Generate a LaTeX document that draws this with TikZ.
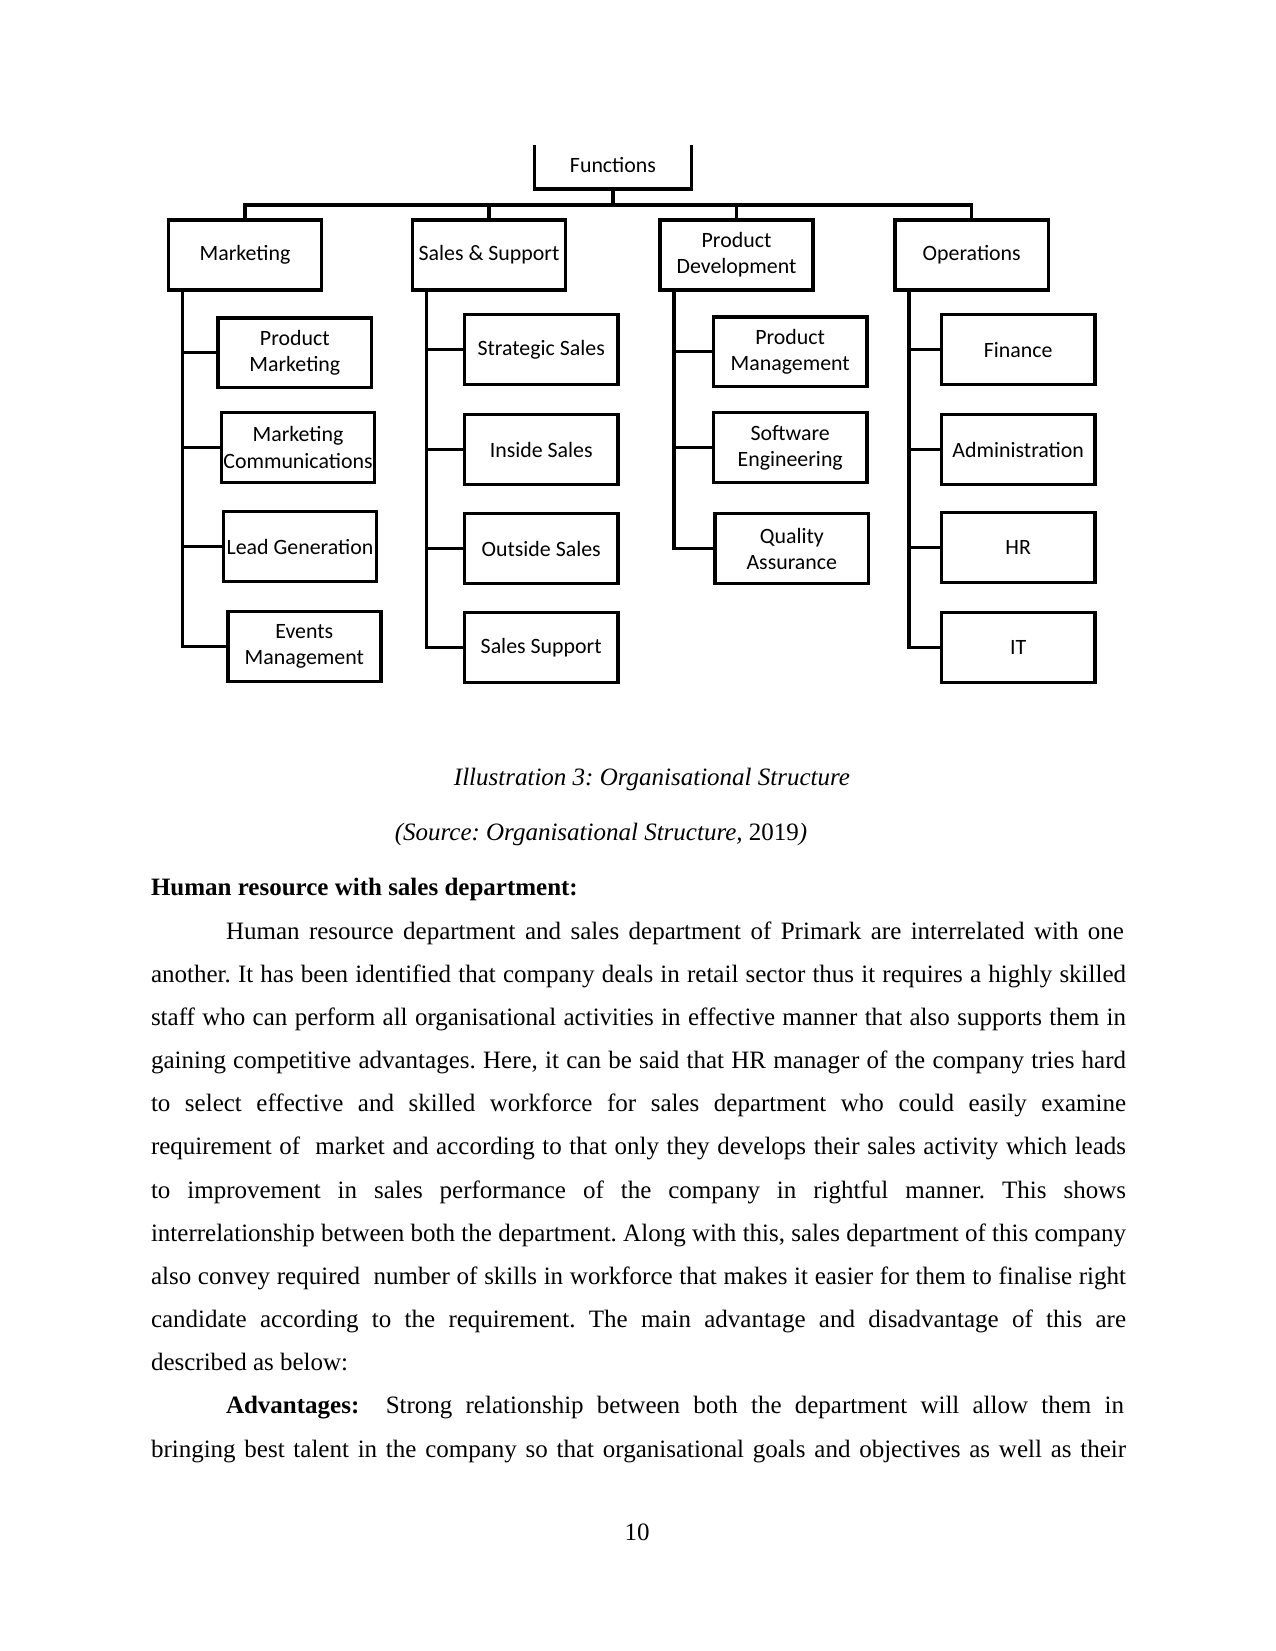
\documentclass[tikz,border=0pt]{standalone}
\usepackage{fontspec}
\setmainfont{Liberation Serif}
\newfontfamily\boxfont{Carlito}
\usetikzlibrary{positioning}
\frenchspacing

% full-width and indented justified lines
\newcommand{\jline}[1]{\makebox[468pt][s]{#1}}
\newcommand{\iline}[1]{\makebox[431pt][s]{#1}}

\begin{document}
\begin{tikzpicture}[
  x=0.48pt, y=-0.48pt,
  every node/.style={font=\fontsize{12}{14.4}\selectfont},
  box/.style={draw, line width=1.7pt, font=\boxfont\fontsize{10.5}{12.5}\selectfont, minimum width=73.5pt, minimum height=33.5pt, inner sep=1pt, align=center},
  link/.style={line width=1.7pt},
  ln/.style={anchor=west, inner sep=0pt, text height=10pt, text depth=4pt}
]
\useasboundingbox (0,0) rectangle (1275,1651);

% chart
\node[box, draw=none, minimum height=19.2pt] (fun) at (613,167) {\raisebox{2pt}{Functions}};
\draw[link] (fun.north west) -- (fun.south west) -- (fun.south east) -- (fun.north east);
\coordinate (bus) at (613,205);

\node[box] (mkt) at (245,255) {Marketing};
\node[box] (sal) at (489,255) {Sales \& Support};
\node[box] (pdv) at (736.5,255) {Product\\Development};
\node[box] (ops) at (971.7,255) {Operations};

\node[box] (pmk) at (294.8,352.7) {Product\\Marketing};
\node[box] (mcm) at (298,447.5) {Marketing\\Communications};
\node[box] (lgn) at (300,546.5) {Lead Generation};
\node[box] (evm) at (304.3,646.5) {Events\\Management};

\node[box] (sst) at (541.2,349.6) {Strategic Sales};
\node[box] (ins) at (541.2,449.6) {Inside Sales};
\node[box] (ous) at (541.2,548.6) {Outside Sales};
\node[box] (ssp) at (541.2,647.5) {Sales Support};

\node[box] (pmg) at (790.2,351.7) {Product\\Management};
\node[box] (swe) at (790.2,447.5) {Software\\Engineering};
\node[box] (qas) at (791.8,548.6) {Quality\\Assurance};

\node[box] (fin) at (1018.2,349.6) {Finance};
\node[box] (adm) at (1018.2,449.6) {Administration};
\node[box] (hrs) at (1018.2,547.5) {HR};
\node[box] (its) at (1018.2,647.5) {IT};

\draw[link] (fun.south) -- (bus);
\draw[link] (mkt.north) |- (bus -| ops.north) -- (ops.north);
\foreach \n in {sal,pdv}
  \draw[link] (\n.north) -- (\n.north |- bus);
\foreach \p/\c in {mkt/pmk, mkt/mcm, mkt/lgn, mkt/evm, sal/sst, sal/ins, sal/ous, sal/ssp, pdv/pmg, pdv/swe, pdv/qas, ops/fin, ops/adm, ops/hrs, ops/its}
  \draw[link] ([xshift=7.6pt]\p.south west) |- (\c.west);

% caption
\node (cap) at (652,779) {\itshape Illustration 3: Organisational Structure};
\node (src) at (601,834) {\textit{(Source: Organisational Structure,} 2019\textit{)}};

% body text
\node[ln] (hd) at (150.6,889.7) {\bfseries Human resource with sales department:};
\node[ln] (l1) at (225.6,932.9) {\iline{Human resource department and sales department of Primark are interrelated with one}};
\node[ln] (l2) at (150.6,976) {\jline{another. It has been identified that company deals in retail sector thus it requires a highly skilled}};
\node[ln] (l3) at (150.6,1019.2) {\jline{staff who can perform all organisational activities in effective manner that also supports them in}};
\node[ln] (l4) at (150.6,1062.4) {\jline{gaining competitive advantages. Here, it can be said that HR manager of the company tries hard}};
\node[ln] (l5) at (150.6,1105.5) {\jline{to select effective and skilled workforce for sales department who could easily examine}};
\node[ln] (l6) at (150.6,1148.7) {\jline{requirement of\ \ market and according to that only they develops their sales activity which leads}};
\node[ln] (l7) at (150.6,1191.9) {\jline{to improvement in sales performance of the company in rightful manner. This shows}};
\node[ln] (l8) at (150.6,1235) {\jline{interrelationship between both the department. Along with this, sales department of this company}};
\node[ln] (l9) at (150.6,1278.2) {\jline{also convey required\ \ number of skills in workforce that makes it easier for them to finalise right}};
\node[ln] (l10) at (150.6,1321.4) {\jline{candidate according to the requirement. The main advantage and disadvantage of this are}};
\node[ln] (l11) at (150.6,1364.6) {described as below:};
\node[ln] (l12) at (225.6,1407.7) {\iline{\textbf{Advantages:}\ \ Strong relationship between both the department will allow them in}};
\node[ln] (l13) at (150.6,1450.9) {\jline{bringing best talent in the company so that organisational goals and objectives as well as their}};

\node (pg) at (637,1532) {10};
\end{tikzpicture}
\end{document}
